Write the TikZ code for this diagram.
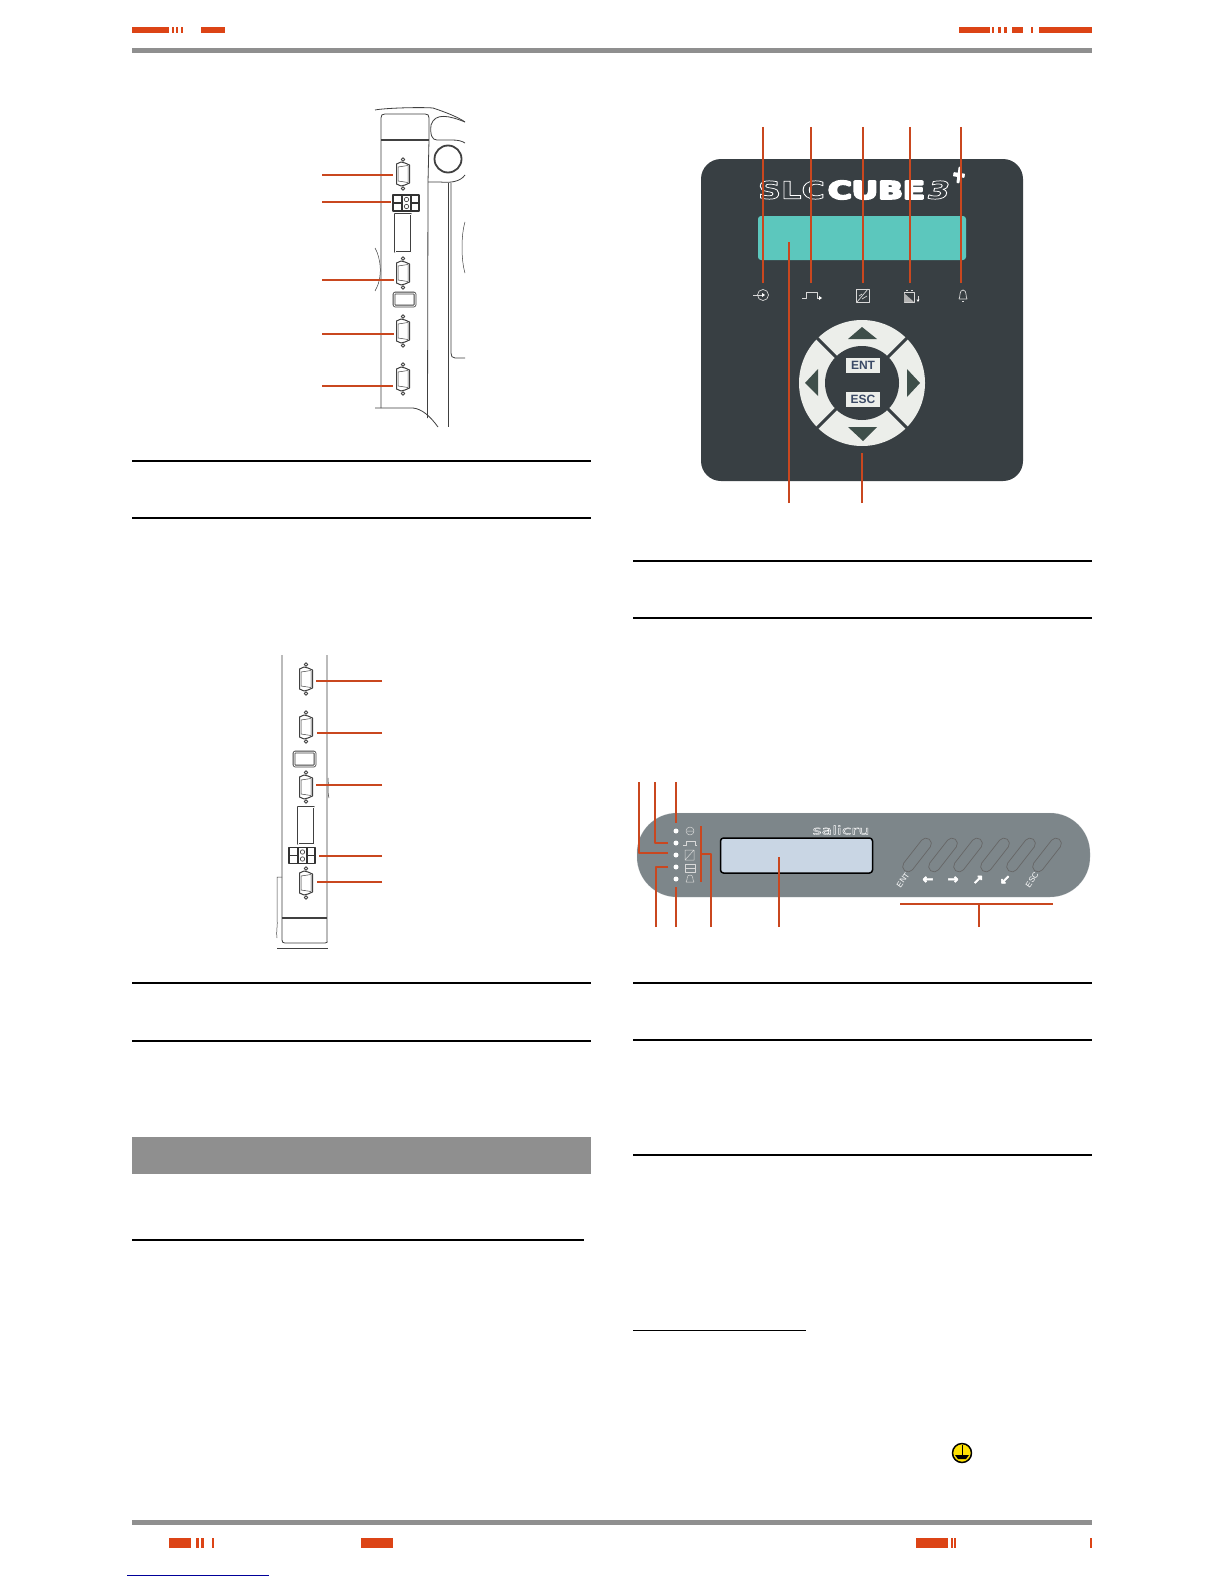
\documentclass[tikz,border=0pt]{standalone}
\usepackage{graphicx}
\usepackage{fontspec}
\setmainfont{Liberation Sans}
\newfontfamily\logofont{DejaVu Sans}
\usetikzlibrary{shapes.misc}
\definecolor{leader}{HTML}{C9471F}
\definecolor{stripe}{HTML}{DC4416}
\definecolor{rulegray}{HTML}{8F8F8F}
\definecolor{facedark}{HTML}{383F43}
\definecolor{lcdgreen}{HTML}{5CC7BD}
\definecolor{ledgray}{HTML}{7D868A}
\definecolor{ledlcd}{HTML}{C9D6E4}
\definecolor{keywhite}{HTML}{ECEEEA}
\definecolor{padarrow}{HTML}{3F4F4A}
\definecolor{padtext}{HTML}{3B4A66}
\newcommand{\hollowtext}[1]{\special{pdf:code 1 Tr 0.3 w 1 1 1 RG}#1\special{pdf:code 0 Tr}}
\newcommand{\heavytext}[2]{\special{pdf:code 2 Tr #1 w 1 1 1 RG}#2\special{pdf:code 0 Tr}}
\tikzset{
  leadline/.style={draw=leader,line width=1.6pt},
  leadthin/.style={draw=leader,line width=1.4pt},
  headbar/.style={fill=stripe,draw=none},
  sheetrule/.style={draw=black,line width=1.4pt},
  casing/.style={draw=black!75,line width=.8pt},
  faceicon/.style={draw=white!85!black,line width=.7pt},
  ledicon/.style={draw=white!85!black,line width=.5pt},
  keycap/.style={draw=black!60,fill=ledgray,rounded rectangle,rotate=52,minimum width=40pt,minimum height=11pt,inner sep=0pt,line width=.7pt},
  keylabel/.style={text=white,inner sep=0pt},
  arrowfont/.style={font=\logofont\bfseries\fontsize{13}{13}\selectfont},
  padlabel/.style={draw=none,fill=keywhite,text=padtext,minimum width=34pt,minimum height=15pt,inner sep=0pt,font=\bfseries\fontsize{12}{12}\selectfont},
  dbport/.pic={
    \draw [casing,line width=1pt] (-6.5,-10) -- (-2,-12) -- (2,-11) -- (6.5,-9) -- (6.5,9) -- (2,11) -- (-2,12) -- (-6.5,10) -- cycle;
    \draw [casing,line width=.5pt] (-5,-7) -- (5,-8.5) -- (5,8.5) -- (-5,7) -- cycle;
    \draw [casing,line width=.9pt] (0,-14.5) circle (1.8pt) (0,14.5) circle (1.8pt);
  },
  termblock/.pic={
    \draw [draw=black!80,line width=1.6pt] (-13,-8) rectangle (13,8);
    \draw [draw=black!80,line width=1.2pt] (-4,-8) -- (-4,8) (5,-8) -- (5,8) (-13,0) -- (-4,0) (5,0) -- (13,0);
    \draw [draw=black!70,line width=.7pt] (.5,-3.5) circle (2.2pt) (.5,3.5) circle (2.2pt);
  }
}
\begin{document}
\begin{tikzpicture}[x=1pt,y=-1pt,line join=bevel]
%%
\useasboundingbox [fill=white] (0,0) rectangle (1224,1584);
% page furniture
\fill [headbar] (132,27) rectangle (169,33);
\fill [headbar] (172,27) rectangle (174,33);
\fill [headbar] (176,27) rectangle (178,33);
\fill [headbar] (181,27) rectangle (183,33);
\fill [headbar] (201,27) rectangle (225,33);
\fill [headbar] (959,27) rectangle (990,33);
\fill [headbar] (992,27) rectangle (994,33);
\fill [headbar] (998,27) rectangle (1001,33);
\fill [headbar] (1004,27) rectangle (1007,33);
\fill [headbar] (1012,27) rectangle (1023,33);
\fill [headbar] (1031,27) rectangle (1033,33);
\fill [headbar] (1039,27) rectangle (1092,33);
\fill [rulegray] (132,48) rectangle (1092,53);
\fill [rulegray] (132,1520) rectangle (1092,1525);
\fill [headbar] (169,1538) rectangle (191,1548);
\fill [headbar] (196,1538) rectangle (199,1548);
\fill [headbar] (201,1538) rectangle (204,1548);
\fill [headbar] (212,1538) rectangle (214,1548);
\fill [headbar] (361,1538) rectangle (393,1548);
\fill [headbar] (916,1538) rectangle (948,1548);
\fill [headbar] (951,1538) rectangle (953,1548);
\fill [headbar] (954,1538) rectangle (956,1548);
\fill [headbar] (1090,1538) rectangle (1092,1548);
\draw [draw=blue!60!black,line width=.8pt] (127,1575) -- (269,1575);
\fill [rulegray] (132,1137) rectangle (591,1174);
\draw [sheetrule] (132,461) -- (591,461);
\draw [sheetrule] (132,518) -- (591,518);
\draw [sheetrule] (132,983) -- (591,983);
\draw [sheetrule] (132,1041) -- (591,1041);
\draw [sheetrule] (132,1240) -- (584,1240);
\draw [sheetrule] (633,561) -- (1092,561);
\draw [sheetrule] (633,618) -- (1092,618);
\draw [sheetrule] (633,983) -- (1092,983);
\draw [sheetrule] (633,1040) -- (1092,1040);
\draw [sheetrule] (633,1155) -- (1092,1155);
\draw [sheetrule] (633,1330.5) -- (806,1330.5);
% earth mark
\node (earth) at (962,1453) [circle,draw=black,fill=yellow!85!orange,line width=1.5pt,minimum size=19pt,inner sep=0pt] {};
\draw [draw=black,line width=.8pt] (962,1445) -- (962,1455);
\fill [black] (955,1455) -- (969,1455) -- (966,1459) -- (958,1459) -- cycle;
%
% rear view, first figure
\draw [casing] (381,408) -- (381,118) .. controls (381,115) and (382,114) .. (385,114) -- (425,114) .. controls (428,114) and (429,115) .. (429,118) -- (429,140);
\draw [casing,line width=1.2pt] (381,140) -- (429,140);
\draw [casing] (429,140) -- (428,182) -- (427.5,418);
\draw [casing] (375,110) .. controls (385,108) and (420,107) .. (433,108) .. controls (445,112) and (458,117) .. (465,122);
\draw [casing] (465,122) .. controls (450,116) and (435,112) .. (431,125) .. controls (430,135) and (432,140) .. (437,140) -- (452,140) .. controls (458,140) and (462,141) .. (465,143);
\draw [casing,line width=1.8pt] (448,159) circle (13.5pt);
\draw [casing] (428,182) -- (440,182) .. controls (450,183) and (460,182) .. (465,175);
\draw [casing,line width=1pt] (448,183) -- (448,427);
\draw [casing] (451,183) -- (451,353) .. controls (451,356) and (452,358) .. (455,358) -- (465,358);
\draw [casing,line width=.5pt] (375,248) .. controls (381,258) and (383,278) .. (375,291);
\draw [casing,line width=.5pt] (465,222) .. controls (461,235) and (461,260) .. (465,273);
\draw [casing] (375,408) -- (413,408) .. controls (422,409) and (430,416) .. (438,427);
\pic at (403,174) {dbport};
\pic at (406,203) {termblock};
\draw [casing,double,double distance=1pt] (395,214) rectangle (411,252);
\pic at (403,273) {dbport};
\draw [casing,double,double distance=1pt,rounded corners=1pt] (394,293) rectangle (415,306);
\pic at (403,331) {dbport};
\pic at (403,379) {dbport};
\coordinate (a1) at (322,175); \coordinate (p1) at (393,175);
\coordinate (a2) at (322,202); \coordinate (p2) at (391,202);
\coordinate (a3) at (322,280); \coordinate (p3) at (394,280);
\coordinate (a4) at (322,334); \coordinate (p4) at (394,334);
\coordinate (a5) at (322,386); \coordinate (p5) at (393,386);
\draw [leadline] (a1) -- (p1);
\draw [leadline] (a2) -- (p2);
\draw [leadline] (a3) -- (p3);
\draw [leadline] (a4) -- (p4);
\draw [leadline] (a5) -- (p5);
%
% rear view, second figure
\draw [casing] (282,655) -- (282,940) .. controls (282,942) and (283,943) .. (285,943) -- (325,943) .. controls (327,943) and (328,942) .. (327,940) -- (327,655);
\draw [casing,line width=1.1pt] (282,918) -- (327,918);
\draw [casing,line width=.5pt] (277,948) -- (328,948);
\draw [casing,line width=.5pt] (282,877) -- (277,877) -- (277,918) .. controls (278,925) and (276,930) .. (277,938);
\draw [casing,line width=.5pt] (328,778) .. controls (329,785) and (327,790) .. (329,798);
\pic at (306,679) {dbport};
\pic at (306,727) {dbport};
\draw [casing,double,double distance=1pt,rounded corners=1pt] (294,752) rectangle (315,766);
\pic at (306,787) {dbport};
\draw [casing,double,double distance=1pt] (298,807) rectangle (314,844);
\pic at (302,855.5) {termblock};
\pic at (306,883) {dbport};
\coordinate (b1) at (382,681); \coordinate (q1) at (316,681);
\coordinate (b2) at (382,733); \coordinate (q2) at (317,733);
\coordinate (b3) at (382,785); \coordinate (q3) at (316,785);
\coordinate (b4) at (382,856); \coordinate (q4) at (319,856);
\coordinate (b5) at (382,882); \coordinate (q5) at (317,882);
\draw [leadline] (b1) -- (q1);
\draw [leadline] (b2) -- (q2);
\draw [leadline] (b3) -- (q3);
\draw [leadline] (b4) -- (q4);
\draw [leadline] (b5) -- (q5);
%
% front panel with keypad
\node (face) at (862,320) [draw=none,fill=facedark,rounded corners=20pt,minimum width=322pt,minimum height=322pt,inner sep=0pt] {};
\node (logoa) at (791.5,190) [text=facedark,inner sep=0pt] {\resizebox{67pt}{18pt}{\logofont\bfseries\hollowtext{SLC}}};
\node (logob) at (876.5,190) [text=white,inner sep=0pt] {\resizebox{97pt}{18pt}{\logofont\bfseries\heavytext{.8}{CUBE}}};
\node (logoc) at (939,190) [text=facedark,inner sep=0pt] {\resizebox{22pt}{18pt}{\logofont\bfseries\itshape\hollowtext{3}}};
\node (logod) at (959,175) [text=white,inner sep=0pt,rotate=-8] {\resizebox{14pt}{15pt}{\logofont\bfseries\heavytext{.6}{+}}};
\node (lcd) at (862,238) [fill=lcdgreen,rounded corners=3pt,minimum width=208pt,minimum height=44pt,inner sep=0pt] {};
% icons
\draw [faceicon] (763,295) circle (5.5pt);
\draw [faceicon] (753,295) -- (763,295);
\fill [white] (765,295) -- (762,293) -- (762,297) -- cycle;
\draw [faceicon] (802,298) -- (806,298) -- (806,292) -- (817,292) -- (817,298) -- (820,298);
\fill [white] (822,298) -- (819,296) -- (819,300) -- cycle;
\draw [faceicon,line width=1pt] (856,289) rectangle (869,302);
\draw [faceicon] (857,302) -- (868,289) (859,296) -- (862,294) (862,299) -- (867,296);
\draw [faceicon] (904,292) rectangle (914,302);
\fill [white!70!black] (904,293) -- (914,302) -- (904,302) -- cycle;
\draw [faceicon] (906,290.5) -- (908,290.5) (911,290.5) -- (913,290.5);
\draw [faceicon] (918,296) -- (918,300);
\fill [white] (918,302) -- (916.5,299.5) -- (919.5,299.5) -- cycle;
\draw [faceicon] (959,299) .. controls (960.5,297) and (959,290) .. (963,290) .. controls (967,290) and (965.5,297) .. (967,299) -- cycle;
\draw [faceicon] (962,301) -- (964,301);
% keypad
\fill [keywhite] (862,383) circle (63pt);
\fill [facedark] (862,383) circle (37pt);
\draw [draw=facedark,line width=3pt] (817,338) -- (837,358);
\draw [draw=facedark,line width=3pt] (907,338) -- (887,358);
\draw [draw=facedark,line width=3pt] (817,428) -- (837,408);
\draw [draw=facedark,line width=3pt] (907,428) -- (887,408);
\fill [padarrow] (848,339) -- (877,339) -- (862,327) -- cycle;
\fill [padarrow] (848,427) -- (877,427) -- (863,441) -- cycle;
\fill [padarrow] (818,369) -- (818,396) -- (805,383) -- cycle;
\fill [padarrow] (907,369) -- (907,397) -- (920,383) -- cycle;
\node (ent) at (863,365.5) [padlabel] {ENT};
\node (esc) at (863,399.5) [padlabel] {ESC};
\coordinate (c1) at (763,127); \coordinate (r1) at (763,283);
\coordinate (c2) at (811,127); \coordinate (r2) at (811,283);
\coordinate (c3) at (863,127); \coordinate (r3) at (863,283);
\coordinate (c4) at (910,127); \coordinate (r4) at (910,283);
\coordinate (c5) at (961,127); \coordinate (r5) at (961,283);
\coordinate (c6) at (789,503); \coordinate (r6) at (789,242);
\coordinate (c7) at (862,503); \coordinate (r7) at (862,453);
\draw [leadthin] (c1) -- (r1);
\draw [leadthin] (c2) -- (r2);
\draw [leadline] (c3) -- (r3);
\draw [leadline] (c4) -- (r4);
\draw [leadline] (c5) -- (r5);
\draw [leadline] (c6) -- (r6);
\draw [leadline] (c7) -- (r7);
%
% LED panel
\node (strip) at (863.5,855) [fill=ledgray,draw=ledgray!60!white,draw opacity=.4,rounded corners=40pt,minimum width=453pt,minimum height=84pt,inner sep=0pt] {};
\node (brand) at (841,830) [text=ledgray,inner sep=0pt] {\resizebox{57pt}{9pt}{\logofont\hollowtext{salicru}}};
\node (ledlcdbox) at (796.5,855.5) [fill=ledlcd,draw=black,line width=1.5pt,rounded corners=3pt,minimum width=152pt,minimum height=35pt,inner sep=0pt] {};
\node (led1) at (676,831) [circle,fill=white,minimum size=5pt,inner sep=0pt] {};
\node (led2) at (676,843) [circle,fill=white,minimum size=5pt,inner sep=0pt] {};
\node (led3) at (676,855) [circle,fill=white,minimum size=5pt,inner sep=0pt] {};
\node (led4) at (676,867) [circle,fill=white,minimum size=5pt,inner sep=0pt] {};
\node (led5) at (676,879) [circle,fill=white,minimum size=5pt,inner sep=0pt] {};
\draw [ledicon] (690,831) circle (4pt) (687,831) -- (693,831);
\draw [ledicon] (683,845) -- (686,845) -- (686,841) -- (695,841) -- (695,845) -- (697,845);
\draw [ledicon] (685,850) rectangle (694,860) (685,860) -- (694,850);
\draw [ledicon] (685,864) rectangle (695,872);
\draw [ledicon] (685,868) -- (695,868);
\draw [ledicon] (686,882) .. controls (688,880) and (686,875) .. (690,875) .. controls (694,875) and (692,880) .. (694,882) -- cycle;
% keys
\node (key1) at (917,855) [keycap] {};
\node (key2) at (943,855) [keycap] {};
\node (key3) at (968,855) [keycap] {};
\node (key4) at (995,855) [keycap] {};
\node (key5) at (1021,855) [keycap] {};
\node (key6) at (1047,855) [keycap] {};
\node (lab1) at (903,880) [keylabel,rotate=55,font=\fontsize{8}{8}\selectfont] {ENT};
\node (lab2) at (928,880) [keylabel,arrowfont] {\heavytext{.5}{←}};
\node (lab3) at (953,880) [keylabel,arrowfont] {\heavytext{.5}{→}};
\node (lab4) at (978,880) [keylabel,arrowfont] {\heavytext{.5}{↗}};
\node (lab5) at (1005,880) [keylabel,arrowfont] {\heavytext{.5}{↙}};
\node (lab6) at (1032,880) [keylabel,rotate=55,font=\fontsize{8}{8}\selectfont] {ESC};
\coordinate (d1) at (639,782); \coordinate (s1) at (668,853);
\coordinate (d2) at (655,782); \coordinate (s2) at (668,843);
\coordinate (d3) at (676,782); \coordinate (s3) at (676,823);
\coordinate (d4) at (656,927); \coordinate (s4) at (668,867);
\coordinate (d5) at (676,927); \coordinate (s5) at (676,887);
\coordinate (d6) at (711,927); \coordinate (s6) at (701,854);
\coordinate (d7) at (779,927); \coordinate (s7) at (779,857);
\coordinate (d8) at (979,927); \coordinate (s8) at (979,904);
\coordinate (e1) at (701,826); \coordinate (e2) at (701,882);
\coordinate (e3) at (900,904); \coordinate (e4) at (1053,904);
\draw [leadline] (d1) |- (s1);
\draw [leadthin] (d2) |- (s2);
\draw [leadline] (d3) -- (s3);
\draw [leadline] (d4) |- (s4);
\draw [leadline] (d5) -- (s5);
\draw [leadline] (d6) |- (s6);
\draw [leadline] (e1) -- (e2);
\draw [leadline] (d7) -- (s7);
\draw [leadline] (e3) -- (e4);
\draw [leadline] (d8) -- (s8);
%
\end{tikzpicture}
\end{document}
